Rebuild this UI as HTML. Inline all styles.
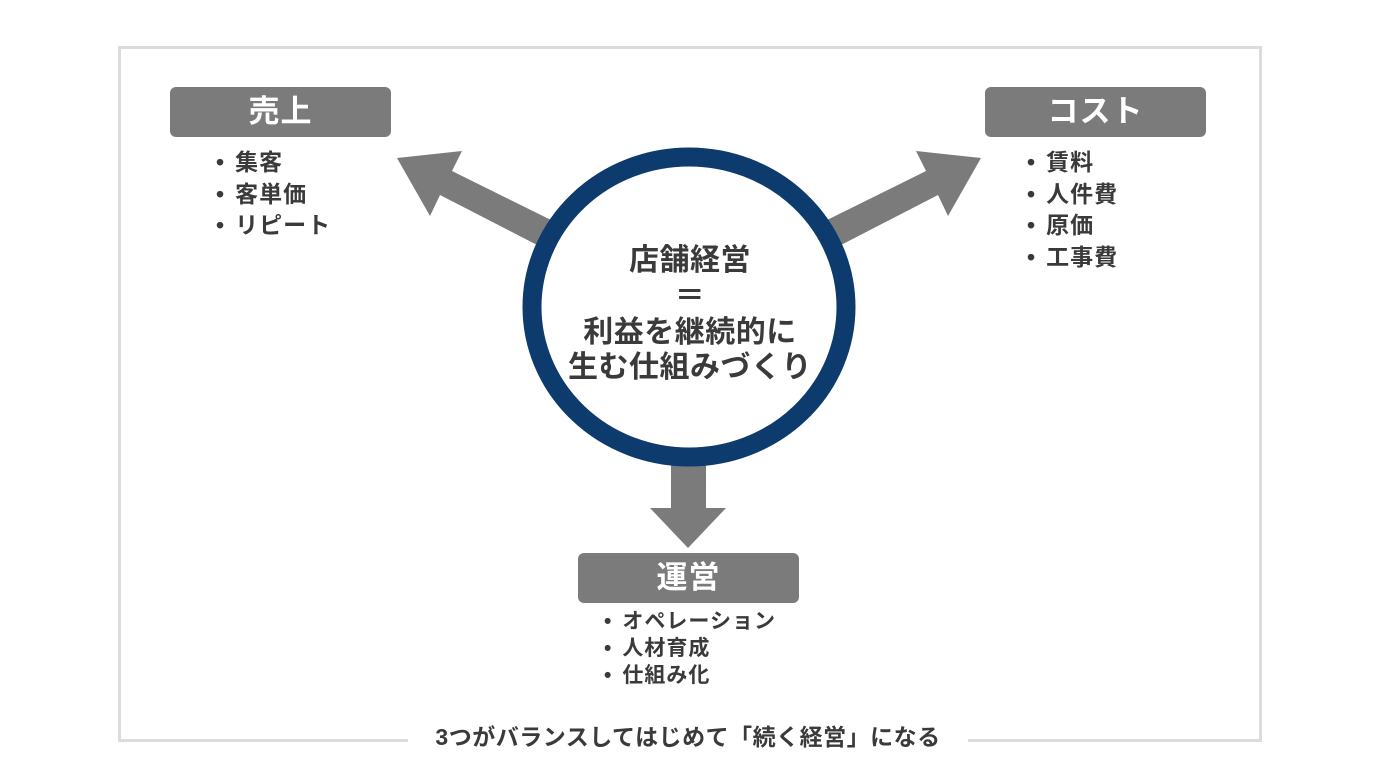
<!DOCTYPE html>
<html><head><meta charset="utf-8"><style>
body{margin:0;width:1376px;height:768px;background:#fff;position:relative;overflow:hidden;font-family:"Liberation Sans","Noto Sans CJK JP",sans-serif;font-weight:bold;color:#3a3a3a}
.frame{position:absolute;left:118px;top:46px;width:1138px;height:690px;border:3px solid #dcdcdc}
.box{position:absolute;width:221px;height:50px;background:#7b7b7b;border-radius:6px;color:#fff;font-size:31px;text-align:center;line-height:50px;letter-spacing:1px}
.list{position:absolute;font-size:23px;line-height:31.5px;letter-spacing:1px}
.list div:before{content:"•";margin-right:10px}
.c{position:absolute;left:530px;width:320px;text-align:center;font-size:30px;letter-spacing:0.5px}
.cap{position:absolute;left:408px;top:720px;width:560px;background:#fff;text-align:center;font-size:23px;line-height:34px;letter-spacing:0.5px}
</style></head><body>
<div class="frame"></div>
<svg width="1376" height="768" style="position:absolute;left:0;top:0">
<g fill="#7b7b7b">
<polygon points="551,220 452,171 462,151 397,158 430,216 440,195 539,246"/>
<polygon points="827,220 926,171 916,151 981,158 948,216 938,195 839,246"/>
<polygon points="671,460 706,460 706,508 726,508 688,548 650,508 671,508"/>
</g>
<ellipse cx="689" cy="307" rx="157" ry="150" fill="#fff" stroke="#0d3b6e" stroke-width="19"/>
</svg>
<div class="box" style="left:170px;top:87px">売上</div>
<div class="box" style="left:985px;top:87px">コスト</div>
<div class="box" style="left:578px;top:553px">運営</div>
<div class="list" style="left:216px;top:147px"><div>集客</div><div>客単価</div><div>リピート</div></div>
<div class="list" style="left:1027px;top:147px"><div>賃料</div><div>人件費</div><div>原価</div><div>工事費</div></div>
<div class="list" style="left:604px;top:608px;font-size:21px;line-height:27px"><div>オペレーション</div><div>人材育成</div><div>仕組み化</div></div>
<div class="c" style="top:235px">店舗経営</div>
<div class="c" style="top:271px">＝</div>
<div class="c" style="top:307px">利益を継続的に</div>
<div class="c" style="top:342px">生む仕組みづくり</div>
<div class="cap">3つがバランスしてはじめて「続く経営」になる</div>
</body></html>
